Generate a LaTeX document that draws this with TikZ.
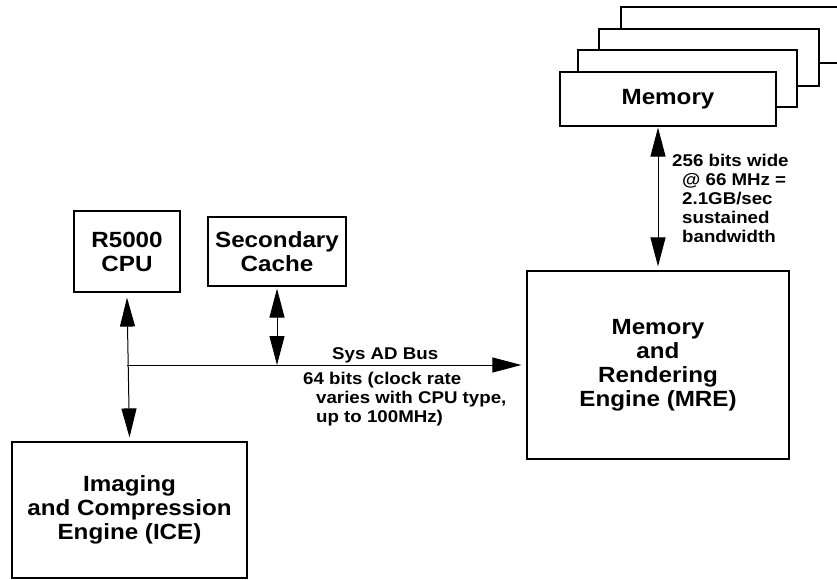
\documentclass[tikz,border=0pt]{standalone}
\usepackage{fontspec}
\setmainfont[FakeStretch=1.1]{Liberation Sans}
\usetikzlibrary{arrows.meta}
\begin{document}
\begin{tikzpicture}[x=1pt,y=-1pt,
  boxline/.style={draw, line width=1.2pt, fill=white},
  blk/.style={boxline, inner sep=0pt, align=center,
    font=\bfseries\fontsize{22}{24}\selectfont},
  note/.style={inner sep=0pt, align=left, anchor=north west,
    font=\bfseries\fontsize{17}{19}\selectfont},
  tip/.tip={Triangle[length=29pt,width=15pt]},
  link/.style={line width=1pt, tip-tip},
  bus/.style={line width=1pt, -tip}]
\useasboundingbox (0,0) rectangle (837,580);

% stacked memory banks, back to front
\draw[boxline] (621,7) rectangle (850,63);
\draw[boxline] (599,29) rectangle (819,86);
\draw[boxline] (578,50) rectangle (797,107);
\node[blk, minimum width=216pt, minimum height=54pt] (mem) at (668,99) {Memory};

% processing blocks
\node[blk, minimum width=106pt, minimum height=81pt] (cpu) at (127,251.5) {R5000\\CPU};
\node[blk, minimum width=138pt, minimum height=69pt] (cache) at (277,251.5) {Secondary\\Cache};
\node[blk, minimum width=235pt, minimum height=136pt] (ice) at (129.5,510) {Imaging\\and Compression\\Engine (ICE)};
\node[blk, minimum width=262pt, minimum height=188pt] (mre) at (658,365) {Memory\\and\\Rendering\\Engine (MRE)};

% Sys AD bus
\coordinate (junc) at (127,365);
\coordinate (cachejunc) at (cache.south |- junc);
\draw[bus] (junc) -- ([xshift=-5pt]mre.west |- junc);
\draw[link] ([yshift=-5pt]cpu.south) -- ([yshift=4pt]ice.north);
\draw[link] ([yshift=-2pt]cache.south) -- (cachejunc);

% memory bus
\draw[link] ([yshift=-1pt]mre.north |- mem.south) -- ([yshift=4pt]mre.north);

% annotations
\node[note] (membw) at (672,154) {256 bits wide\\\hspace*{10pt}@ 66 MHz =\\\hspace*{10pt}2.1GB/sec\\\hspace*{10pt}sustained\\\hspace*{10pt}bandwidth};
\node[note] (busname) at (332,347) {Sys AD Bus};
\node[note] (buswidth) at (303,372) {64 bits (clock rate\\\hspace*{13pt}varies with CPU type,\\\hspace*{13pt}up to 100MHz)};
\end{tikzpicture}
\end{document}
